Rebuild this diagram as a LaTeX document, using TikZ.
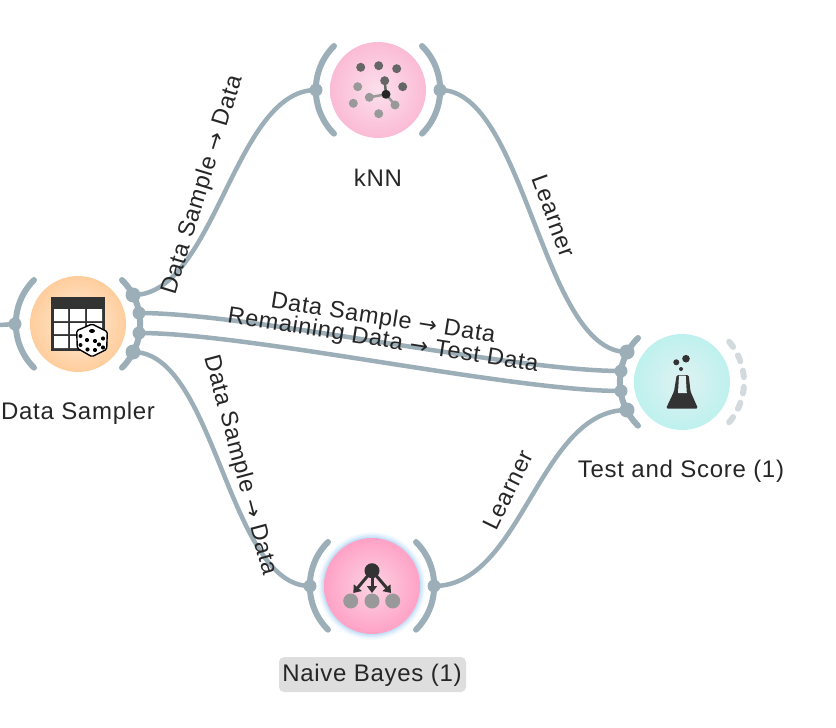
\documentclass[tikz,border=0pt]{standalone}
\usepackage{fontspec}
\setmainfont[LetterSpace=3]{Liberation Sans}
\newfontfamily\arrowfont{DejaVu Sans}
\usetikzlibrary{arrows.meta}
\definecolor{wire}{HTML}{9CAEB8}
\definecolor{ghost}{HTML}{D2DADE}
\definecolor{ink}{HTML}{333333}
\definecolor{txt}{HTML}{262626}
\definecolor{dot}{HTML}{666666}
\definecolor{gdot}{HTML}{999999}
\definecolor{halo}{HTML}{8CC4F0}
\definecolor{samplerin}{HTML}{FDEDDB}\definecolor{samplerout}{HTML}{FFCD9C}
\definecolor{knnin}{HTML}{FBE0EC}\definecolor{knnout}{HTML}{FBBBD5}
\definecolor{scorein}{HTML}{DFF2F2}\definecolor{scoreout}{HTML}{BEF1EE}
\definecolor{bayesin}{HTML}{FBD3E2}\definecolor{bayesout}{HTML}{FFA2C6}
\newcommand{\arr}{{\arrowfont\fontsize{22}{24}\selectfont →}}
\tikzset{
  x=1pt,y=-1pt,
  wirepath/.style={draw=wire,line width=6pt,line cap=round},
  edgepath/.style={draw=wire,line width=4.5pt},
  portdot/.style={circle,fill=wire,minimum size=15pt,inner sep=0pt},
  smallport/.style={circle,fill=wire,minimum size=13pt,inner sep=0pt},
  widget/.style={circle,minimum size=96pt,inner sep=0pt},
  wlabel/.style={font=\fontsize{24}{27}\selectfont,text=txt,inner sep=0pt},
  elabel/.style={font=\fontsize{23.5}{26}\selectfont,text=txt,inner sep=0pt},
  knndot/.style={circle,minimum size=9pt,inner sep=0pt},
  bayesdot/.style={circle,minimum size=15pt,inner sep=0pt},
  bayesarrow/.style={ink,line width=3pt,-{Triangle[length=7pt,width=10pt]}},
}
\begin{document}
\begin{tikzpicture}
\useasboundingbox (0,0) rectangle (836,728);
% glow
\foreach \r/\o in {54/.07,52.5/.12,51/.18,49.5/.25}
  \fill[halo,opacity=\o] (372,586) circle (\r);
% widgets
\node[widget,inner color=samplerin,outer color=samplerout] (sampler) at (78,324) {};
\node[widget,inner color=knnin,outer color=knnout] (knn) at (378,90) {};
\node[widget,inner color=scorein,outer color=scoreout] (score) at (682,382) {};
\node[widget,inner color=bayesin,outer color=bayesout] (bayes) at (372,586) {};
% channels
\draw[wirepath] (34,280) arc[start angle=225,end angle=135,radius=62];
\draw[wirepath] (122,280) arc[start angle=-45,end angle=45,radius=62];
\draw[wirepath] (334,46) arc[start angle=225,end angle=135,radius=62];
\draw[wirepath] (422,46) arc[start angle=-45,end angle=45,radius=62];
\draw[wirepath] (638,338) arc[start angle=225,end angle=135,radius=62];
\draw[wirepath] (328,542) arc[start angle=225,end angle=135,radius=62];
\draw[wirepath] (416,542) arc[start angle=-45,end angle=45,radius=62];
\foreach \a in {-37.5,-22.5,-7.5,7.5,22.5,37.5}
  \draw[draw=ghost,line width=6pt,line cap=round] ({682+62*cos(\a-3)},{382+62*sin(\a-3)}) arc[start angle=\a-3,end angle=\a+3,radius=62];
% ports
\node[smallport] (pin) at (15,324) {};
\node[portdot] (s1) at (133,295) {};
\node[smallport] (s2) at (139,313) {};
\node[smallport] (s3) at (139,333) {};
\node[portdot] (s4) at (133,352) {};
\node[smallport] (ki) at (316,90) {};
\node[smallport] (ko) at (440,90) {};
\node[smallport] (bi) at (310,586) {};
\node[smallport] (bo) at (434,586) {};
\node[portdot] (t1) at (627,352) {};
\node[smallport] (t2) at (621,371) {};
\node[smallport] (t3) at (621,391) {};
\node[portdot] (t4) at (627,410) {};
\coordinate (free) at (0,325);
% edges
\path[edgepath] (free) -- (pin.center);
\path[edgepath] (s1.center) .. controls (215,295) and (234,90) .. (ki.center);
\path[edgepath] (s2.center) .. controls (249,313) and (511,371) .. (t2.center);
\path[edgepath] (s3.center) .. controls (249,333) and (511,391) .. (t3.center);
\path[edgepath] (s4.center) .. controls (215,352) and (228,586) .. (bi.center);
\path[edgepath] (ko.center) .. controls (525,90) and (542,352) .. (t1.center);
\path[edgepath] (bo.center) .. controls (522,586) and (539,410) .. (t4.center);
% sampler icon
\fill[ink] (51,297) rectangle (105,351);
\fill[white] (54,309) rectangle (68,321) (70,309) rectangle (85,321) (87,309) rectangle (102,321)
  (54,323) rectangle (68,334) (70,323) rectangle (85,334) (87,323) rectangle (102,334)
  (54,336) rectangle (68,348) (70,336) rectangle (85,348) (87,336) rectangle (102,348);
\draw[black,line width=1.4pt,fill=white,line join=round,rounded corners=1.5pt] (92,324) -- (107.3,331.7) -- (106.7,349.3) -- (92,356.7) -- (77.3,348.3) -- (76.7,330.7) -- cycle;
\fill[black] (92,331) ellipse (3 and 2)
 (80.5,336) circle (2) (87,340) circle (2.1) (80.5,345) circle (2) (87.5,349.5) circle (2.1)
 (103,338.5) circle (2.1) (95,341) circle (2.1) (99,344.5) circle (2.1) (103,347.5) circle (2.1) (95,350) circle (2.1);
% knn icon
\draw[gdot,line width=2.5pt] (369.3,97.3) -- (386,94.3) -- (395,105);
\draw[dot,line width=2.5pt] (384.7,80.7) -- (386,94.3);
\foreach \n/\px/\py in {a/360.7/67.3,b/378.7/65.7,c/396.7/68.7,d/402.7/86.7,e/384.7/80.7}
  \node[knndot,fill=dot] (k\n) at (\px,\py) {};
\foreach \n/\px/\py in {f/357.7/86.7,g/369.3/97.3,h/395/105,i/378.7/113.7,j/353.3/103.3}
  \node[knndot,fill=gdot] (k\n) at (\px,\py) {};
\node[knndot,fill=black!85] (kc) at (386,94.3) {};
% flask
\fill[ink] (686,358.7) circle (3.8) (676.3,362.3) circle (3) (681,369) circle (2);
\fill[ink,rounded corners=1.5pt] (676.7,375) -- (688.7,375) -- (690.5,391.5) -- (698,408.5) -- (666,408.5) -- (674,391.5) -- cycle;
\fill[scorein] (679,375.5) -- (685.7,375.5) -- (686.8,393) -- (678,393) -- cycle;
% bayes icon
\node[bayesdot,fill=gdot] (b1) at (350.7,601) {};
\node[bayesdot,fill=gdot] (b2) at (372,601) {};
\node[bayesdot,fill=gdot] (b3) at (392.7,601) {};
\node[bayesdot,fill=ink] (b0) at (372,570.7) {};
\draw[bayesarrow] (b0.center) -- (353.3,593);
\draw[bayesarrow] (b0.center) -- (372,593);
\draw[bayesarrow] (b0.center) -- (391,593);
% labels
\fill[black!13,rounded corners=5pt] (279,657) rectangle (466,692);
\node[wlabel] (lsampler) at (78,413) {Data Sampler};
\node[wlabel] (lknn) at (378,178) {kNN};
\node[wlabel] (lscore) at (681,471) {Test and Score (1)};
\node[wlabel] (lbayes) at (372,675) {Naive Bayes (1)};
\node[elabel,rotate=73] (e1) at (203,185) {Data Sample \arr{} Data};
\node[elabel,rotate=-70] (e2) at (554,216) {Learner};
\node[elabel,rotate=-9] (e3) at (383,319) {Data Sample \arr{} Data};
\node[elabel,rotate=-9] (e4) at (383,341) {Remaining Data \arr{} Test Data};
\node[elabel,rotate=-75] (e5) at (240,465) {Data Sample \arr{} Data};
\node[elabel,rotate=64] (e6) at (508,490) {Learner};
\end{tikzpicture}
\end{document}
